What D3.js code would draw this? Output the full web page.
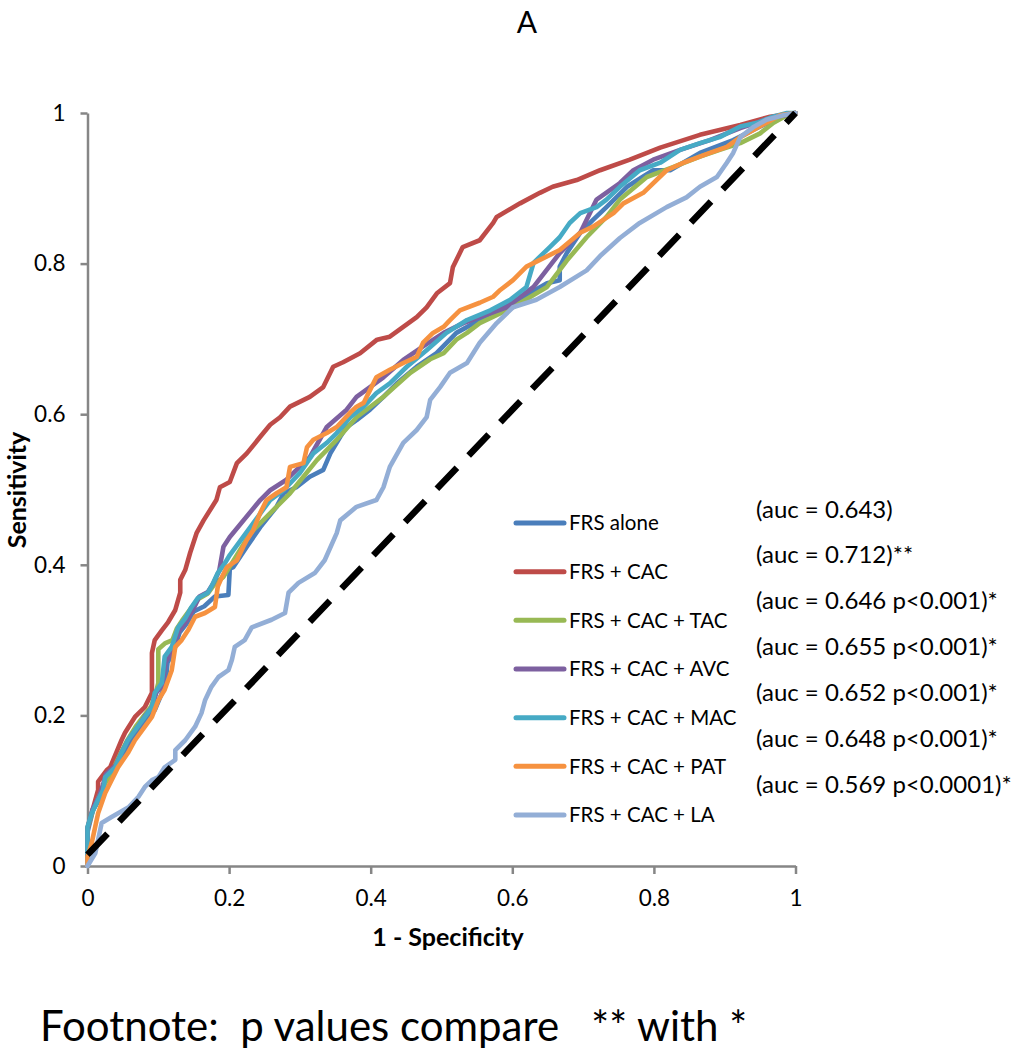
<!DOCTYPE html>
<html><head><meta charset="utf-8">
<script src="https://cdn.jsdelivr.net/npm/d3@7"></script>
<style>
html,body{margin:0;padding:0;background:#fff;}
svg text{font-family:Lato,"Open Sans",sans-serif;fill:#000;}
</style></head>
<body><svg id="chart" width="1014" height="1050"></svg>
<script>
// ---------- data ----------
const seriesNames = ["FRS alone","FRS + CAC","FRS + CAC + TAC","FRS + CAC + AVC","FRS + CAC + MAC","FRS + CAC + PAT","FRS + CAC + LA"];
const aucLabels = ["(auc = 0.643)","(auc = 0.712)**","(auc = 0.646 p<0.001)*","(auc = 0.655 p<0.001)*","(auc = 0.652 p<0.001)*","(auc = 0.648 p<0.001)*","(auc = 0.569 p<0.0001)*"];
const xTicks = [0,0.2,0.4,0.6,0.8,1];
const yTicks = [0,0.2,0.4,0.6,0.8,1];
const chartTitle = "A";
const xTitle = "1 - Specificity";
const yTitle = "Sensitivity";
const footnote = "Footnote:  p values compare   ** with *";
const referenceLine = [[0,0.015],[1,1]];

const rocFRS = [[0,0],[0,0.045],[0.008,0.075],[0.018,0.09],[0.025,0.112],[0.038,0.125],[0.048,0.145],[0.058,0.16],[0.071,0.178],[0.083,0.193],[0.095,0.207],[0.103,0.225],[0.11,0.24],[0.113,0.27],[0.122,0.285],[0.13,0.31],[0.14,0.322],[0.15,0.338],[0.165,0.345],[0.18,0.358],[0.199,0.36],[0.201,0.395],[0.206,0.397],[0.225,0.424],[0.244,0.45],[0.267,0.477],[0.277,0.495],[0.295,0.503],[0.314,0.517],[0.333,0.526],[0.343,0.548],[0.357,0.57],[0.366,0.583],[0.38,0.592],[0.399,0.606],[0.418,0.623],[0.437,0.641],[0.465,0.663],[0.493,0.681],[0.521,0.708],[0.554,0.725],[0.601,0.748],[0.649,0.774],[0.667,0.778],[0.667,0.796],[0.677,0.814],[0.696,0.841],[0.714,0.858],[0.733,0.875],[0.762,0.902],[0.799,0.924],[0.823,0.924],[0.865,0.947],[0.912,0.964],[0.95,0.982],[0.978,0.995],[1,1]];

const rocCAC = [[0,0],[0,0.05],[0.015,0.101],[0.015,0.112],[0.027,0.127],[0.032,0.131],[0.048,0.167],[0.053,0.177],[0.067,0.198],[0.081,0.211],[0.091,0.23],[0.091,0.283],[0.095,0.3],[0.105,0.313],[0.114,0.324],[0.124,0.34],[0.131,0.363],[0.131,0.38],[0.138,0.393],[0.145,0.416],[0.154,0.442],[0.164,0.459],[0.182,0.486],[0.187,0.503],[0.201,0.51],[0.211,0.535],[0.225,0.548],[0.244,0.57],[0.258,0.586],[0.272,0.596],[0.286,0.61],[0.314,0.623],[0.333,0.636],[0.347,0.663],[0.361,0.669],[0.385,0.681],[0.409,0.699],[0.427,0.703],[0.446,0.716],[0.465,0.729],[0.479,0.742],[0.494,0.761],[0.512,0.774],[0.516,0.795],[0.53,0.822],[0.554,0.831],[0.573,0.854],[0.578,0.862],[0.611,0.88],[0.639,0.894],[0.657,0.902],[0.691,0.911],[0.724,0.924],[0.766,0.938],[0.809,0.954],[0.865,0.971],[0.922,0.984],[0.964,0.995],[1,1]];

const rocTAC = [[0,0],[0,0.05],[0.007,0.072],[0.016,0.092],[0.024,0.108],[0.036,0.128],[0.046,0.148],[0.055,0.165],[0.068,0.185],[0.08,0.2],[0.09,0.212],[0.096,0.228],[0.1,0.243],[0.1,0.288],[0.11,0.296],[0.12,0.3],[0.126,0.315],[0.135,0.328],[0.146,0.342],[0.157,0.355],[0.17,0.362],[0.18,0.375],[0.192,0.384],[0.23,0.442],[0.286,0.495],[0.324,0.539],[0.352,0.566],[0.38,0.596],[0.418,0.623],[0.456,0.655],[0.484,0.673],[0.503,0.681],[0.521,0.699],[0.536,0.708],[0.554,0.721],[0.601,0.742],[0.649,0.769],[0.677,0.804],[0.705,0.835],[0.733,0.862],[0.752,0.885],[0.79,0.915],[0.827,0.928],[0.865,0.942],[0.893,0.951],[0.922,0.96],[0.95,0.973],[0.969,0.987],[0.988,0.997],[1,1]];

const rocAVC = [[0,0],[0,0.05],[0.007,0.075],[0.016,0.092],[0.022,0.108],[0.026,0.122],[0.04,0.134],[0.049,0.152],[0.058,0.168],[0.072,0.186],[0.082,0.2],[0.092,0.212],[0.097,0.23],[0.106,0.24],[0.11,0.27],[0.12,0.286],[0.129,0.312],[0.14,0.326],[0.15,0.342],[0.158,0.358],[0.17,0.364],[0.178,0.376],[0.186,0.392],[0.192,0.424],[0.201,0.437],[0.244,0.486],[0.258,0.499],[0.281,0.513],[0.314,0.543],[0.338,0.583],[0.366,0.606],[0.38,0.623],[0.399,0.636],[0.418,0.649],[0.446,0.672],[0.474,0.69],[0.503,0.708],[0.531,0.721],[0.592,0.742],[0.63,0.769],[0.667,0.814],[0.696,0.841],[0.719,0.885],[0.752,0.907],[0.771,0.924],[0.799,0.938],[0.837,0.951],[0.879,0.964],[0.922,0.98],[0.964,0.993],[1,1]];

const rocMAC = [[0,0],[0,0.052],[0.006,0.07],[0.015,0.088],[0.022,0.101],[0.025,0.118],[0.039,0.131],[0.048,0.15],[0.057,0.167],[0.071,0.185],[0.081,0.198],[0.091,0.211],[0.095,0.23],[0.105,0.243],[0.109,0.278],[0.119,0.291],[0.128,0.317],[0.138,0.329],[0.147,0.344],[0.156,0.356],[0.17,0.363],[0.175,0.371],[0.184,0.389],[0.194,0.402],[0.201,0.413],[0.23,0.45],[0.258,0.486],[0.277,0.499],[0.3,0.522],[0.319,0.548],[0.338,0.562],[0.352,0.575],[0.371,0.596],[0.39,0.61],[0.408,0.628],[0.427,0.641],[0.451,0.663],[0.479,0.685],[0.507,0.708],[0.536,0.725],[0.569,0.738],[0.597,0.752],[0.62,0.769],[0.63,0.801],[0.653,0.822],[0.667,0.835],[0.681,0.854],[0.696,0.867],[0.719,0.875],[0.733,0.885],[0.752,0.902],[0.78,0.924],[0.809,0.934],[0.837,0.951],[0.865,0.96],[0.893,0.968],[0.922,0.982],[0.946,0.987],[0.968,0.995],[0.988,1],[1,1]];

const rocPAT = [[0,0],[0,0.012],[0.006,0.031],[0.015,0.07],[0.025,0.097],[0.034,0.114],[0.043,0.131],[0.057,0.15],[0.067,0.167],[0.081,0.185],[0.091,0.198],[0.1,0.22],[0.109,0.234],[0.119,0.26],[0.124,0.291],[0.133,0.3],[0.142,0.313],[0.152,0.331],[0.166,0.336],[0.18,0.344],[0.184,0.371],[0.19,0.384],[0.197,0.397],[0.211,0.406],[0.22,0.424],[0.225,0.433],[0.234,0.446],[0.244,0.469],[0.253,0.486],[0.267,0.495],[0.281,0.503],[0.286,0.53],[0.305,0.535],[0.31,0.556],[0.319,0.566],[0.338,0.575],[0.352,0.583],[0.361,0.592],[0.371,0.602],[0.38,0.61],[0.39,0.615],[0.399,0.632],[0.408,0.649],[0.427,0.659],[0.446,0.668],[0.465,0.676],[0.474,0.695],[0.488,0.708],[0.503,0.716],[0.512,0.725],[0.526,0.738],[0.554,0.748],[0.573,0.756],[0.583,0.765],[0.601,0.778],[0.62,0.796],[0.639,0.805],[0.667,0.818],[0.696,0.841],[0.714,0.849],[0.743,0.867],[0.757,0.88],[0.785,0.894],[0.818,0.924],[0.842,0.934],[0.879,0.947],[0.903,0.955],[0.922,0.968],[0.94,0.977],[0.959,0.987],[0.978,0.997],[1,1]];

const rocLA = [[0,0],[0.011,0.017],[0.02,0.057],[0.034,0.065],[0.058,0.078],[0.072,0.092],[0.081,0.105],[0.091,0.114],[0.1,0.118],[0.109,0.131],[0.124,0.141],[0.124,0.154],[0.138,0.167],[0.152,0.185],[0.161,0.203],[0.166,0.22],[0.175,0.238],[0.185,0.251],[0.199,0.26],[0.204,0.274],[0.208,0.291],[0.222,0.3],[0.232,0.317],[0.26,0.327],[0.279,0.336],[0.284,0.363],[0.298,0.376],[0.321,0.389],[0.335,0.406],[0.352,0.442],[0.357,0.459],[0.38,0.477],[0.408,0.486],[0.418,0.503],[0.427,0.53],[0.446,0.562],[0.465,0.579],[0.479,0.596],[0.484,0.619],[0.498,0.636],[0.512,0.655],[0.536,0.668],[0.554,0.695],[0.578,0.721],[0.601,0.742],[0.634,0.752],[0.667,0.769],[0.705,0.791],[0.724,0.81],[0.752,0.834],[0.78,0.854],[0.818,0.875],[0.846,0.888],[0.865,0.902],[0.889,0.915],[0.903,0.934],[0.912,0.947],[0.922,0.968],[0.94,0.981],[0.959,0.991],[0.983,0.997],[1,1]];

const seriesData = [rocFRS, rocCAC, rocTAC, rocAVC, rocMAC, rocPAT, rocLA];

// ---------- styles ----------
const colors = ["#4A7EBB","#BE4B48","#98B954","#7D60A0","#46AAC5","#F69240","#93AED6"];
const axisColor = "#868686";

// ---------- layout ----------
const svg = d3.select("#chart");
const x = d3.scaleLinear().domain([0,1]).range([87.5,795.5]);
const y = d3.scaleLinear().domain([0,1]).range([866,113]);

// axes
const yAxis = d3.axisLeft(y).tickValues(yTicks).tickSize(7).tickSizeOuter(0).tickPadding(15).tickFormat(d=>String(d));
const xAxis = d3.axisBottom(x).tickValues(xTicks).tickSize(8).tickSizeOuter(0).tickPadding(16).tickFormat(d=>String(d));

const gy = svg.append("g").attr("transform","translate(87.5,0)").call(yAxis);
const gx = svg.append("g").attr("transform","translate(0,866)").call(xAxis);
[gy,gx].forEach(g=>{
  g.select(".domain").attr("stroke",axisColor).attr("stroke-width",2.5);
  g.selectAll(".tick line").attr("stroke",axisColor).attr("stroke-width",2.5);
  g.selectAll(".tick text").attr("font-family","Lato").attr("font-size",22.5).attr("fill","#000");
});

// series lines
const line = d3.line().x(d=>x(d[0])).y(d=>y(d[1]));
svg.append("g").selectAll("path").data(seriesData).join("path")
  .attr("d",line).attr("fill","none")
  .attr("stroke",(d,i)=>colors[i]).attr("stroke-width",4.6)
  .attr("stroke-linejoin","round").attr("stroke-linecap","round");

// diagonal reference
svg.append("path").datum(referenceLine).attr("d",line)
  .attr("fill","none").attr("stroke","#000").attr("stroke-width",6.5)
  .attr("stroke-dasharray","29,17");

// legend
const ly = d3.scalePoint().domain(seriesNames).range([523,815]);
const lg = svg.append("g");
seriesNames.forEach((n,i)=>{
  lg.append("line").attr("x1",516).attr("x2",564).attr("y1",ly(n)).attr("y2",ly(n))
    .attr("stroke",colors[i]).attr("stroke-width",5).attr("stroke-linecap","round");
  lg.append("text").attr("x",569).attr("y",ly(n)).attr("dy","0.36em")
    .attr("font-size",20.5).text(n);
});
const ay = d3.scalePoint().domain(aucLabels).range([509,784]);
svg.append("g").selectAll("text").data(aucLabels).join("text")
  .attr("x",756).attr("y",d=>ay(d)).attr("dy","0.36em").attr("font-size",24).text(d=>d);

// titles
svg.append("text").attr("x",527).attr("y",33).attr("text-anchor","middle").attr("font-size",30).text(chartTitle);
svg.append("text").attr("x",448).attr("y",946).attr("text-anchor","middle").attr("font-size",25).attr("font-weight","bold").text(xTitle);
svg.append("text").attr("transform","translate(26,490) rotate(-90)").attr("text-anchor","middle").attr("font-size",25).attr("font-weight","bold").text(yTitle);
svg.append("text").attr("x",40).attr("y",1041).attr("font-size",42).attr("xml:space","preserve").style("white-space","pre").text(footnote);
</script></body></html>
